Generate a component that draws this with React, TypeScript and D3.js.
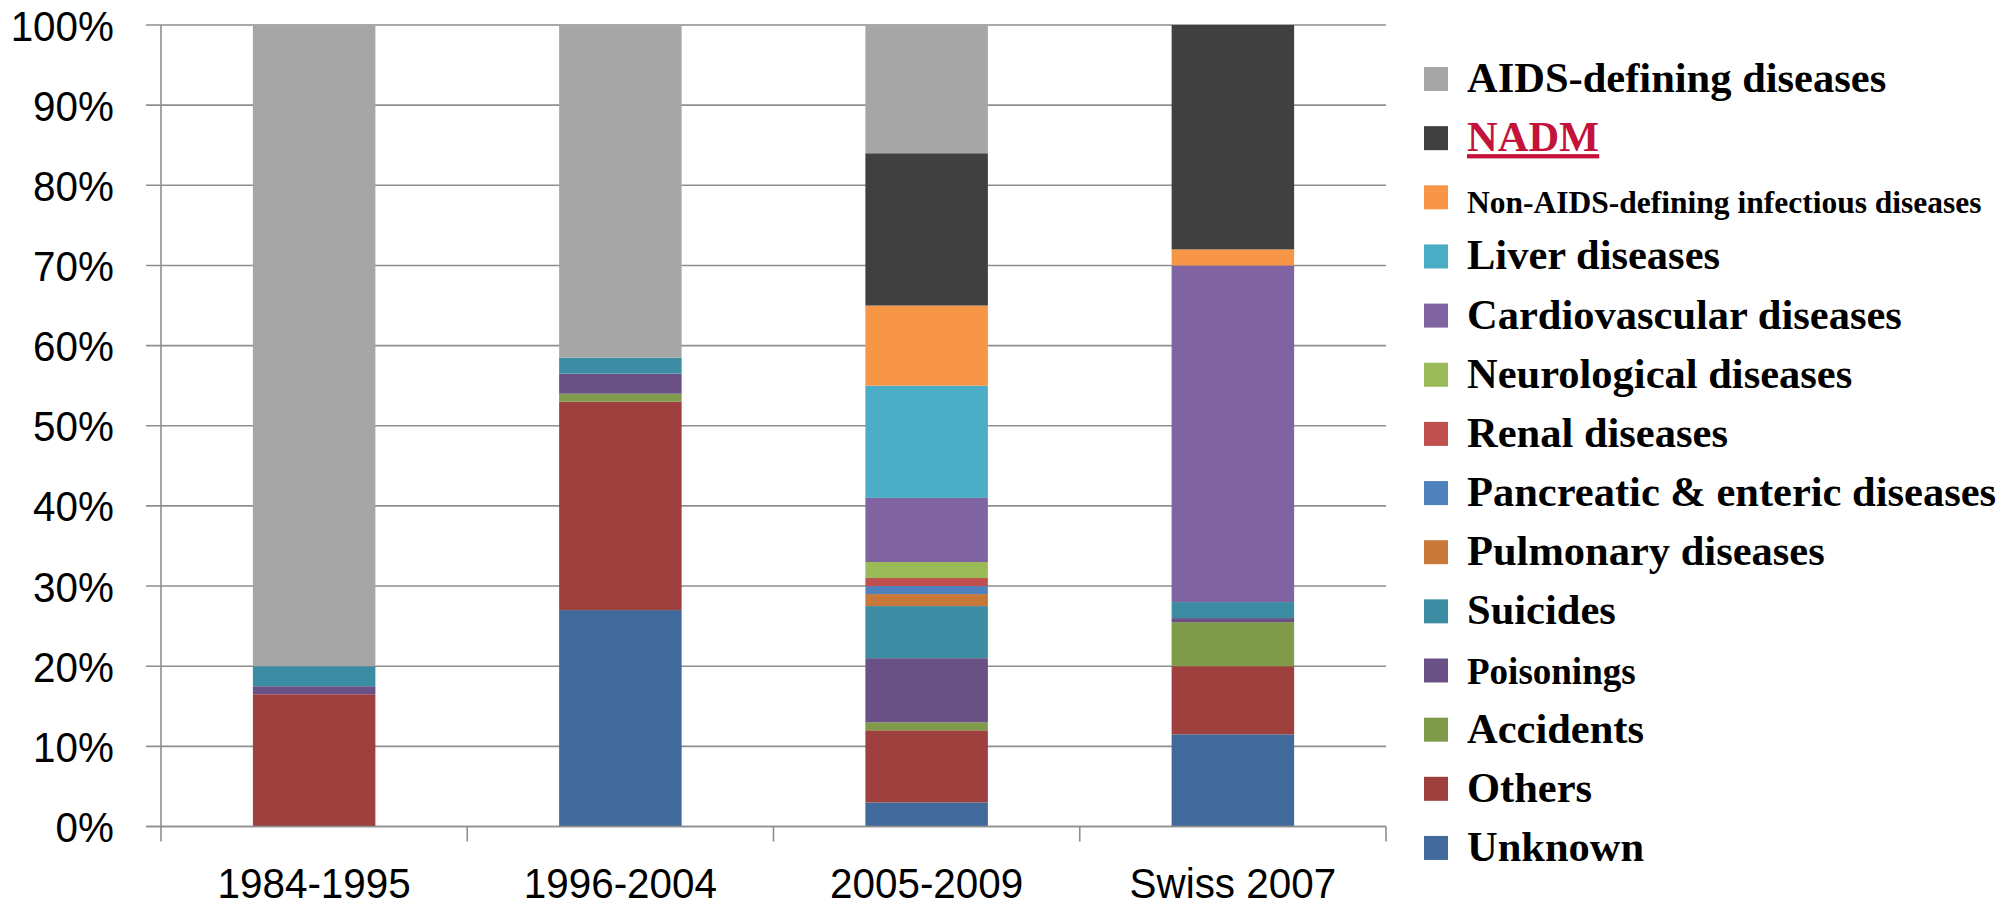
import React from "react";
import * as d3 from "d3";

const categories = ["1984-1995", "1996-2004", "2005-2009", "Swiss 2007"];

// series values, bottom of stack first (percent)
const unknown = [0, 27, 3, 11.5];
const others = [16.5, 26, 9, 8.5];
const accidents = [0, 1, 1, 5.5];
const poisonings = [1, 2.5, 8, 0.5];
const suicides = [2.5, 2, 6.5, 2];
const pulmonary = [0, 0, 1.5, 0];
const pancreatic = [0, 0, 1, 0];
const renal = [0, 0, 1, 0];
const neurological = [0, 0, 2, 0];
const cardiovascular = [0, 0, 8, 42];
const liver = [0, 0, 14, 0];
const nonAidsInfectious = [0, 0, 10, 2];
const nadm = [0, 0, 19, 28];
const aidsDefining = [80, 41.5, 16, 0];

const seriesNames = [
  "Unknown",
  "Others",
  "Accidents",
  "Poisonings",
  "Suicides",
  "Pulmonary diseases",
  "Pancreatic & enteric diseases",
  "Renal diseases",
  "Neurological diseases",
  "Cardiovascular diseases",
  "Liver diseases",
  "Non-AIDS-defining infectious diseases",
  "NADM",
  "AIDS-defining diseases",
];
const seriesValues = [
  unknown, others, accidents, poisonings, suicides, pulmonary, pancreatic,
  renal, neurological, cardiovascular, liver, nonAidsInfectious, nadm, aidsDefining,
];
const seriesColors = [
  "#416A9B", "#9D403E", "#7F9A48", "#695185", "#3C8DA3", "#C8793A", "#4F81BD",
  "#C0504D", "#9BBB59", "#8064A2", "#4BACC6", "#F79646", "#404040", "#A6A6A6",
];
const yTicks = [0, 10, 20, 30, 40, 50, 60, 70, 80, 90, 100];

export default function App() {
  const left = 161, right = 1386, bottom = 826.5, top = 25;
  const x = d3.scaleBand<string>().domain(categories).range([left, right]).paddingInner(0.6).paddingOuter(0.3);
  const y = d3.scaleLinear().domain([0, 100]).range([bottom, top]);

  const rows = categories.map((c, i) => {
    const r: any = { cat: c };
    seriesNames.forEach((s, k) => (r[s] = seriesValues[k][i]));
    return r;
  });
  const stacked = d3.stack<any>().keys(seriesNames)(rows);
  const step = x.step();
  const boundaries = d3.range(categories.length + 1).map((i) => left + i * step);

  const legendItems = seriesNames.map((n, k) => ({ name: n, color: seriesColors[k] })).reverse();
  const legendSize = (n: string) =>
    n === "Non-AIDS-defining infectious diseases" ? 31.5 : n === "Poisonings" ? 37 : 42.5;

  const labelFont = "'Liberation Sans', Arial, sans-serif";

  return (
    <div style={{ position: "absolute", left: 0, top: 0 }}>
      <svg width={2015} height={908} style={{ display: "block", background: "#fff" }}>
        {/* gridlines */}
        {yTicks.map((t) => (
          <line key={t} x1={left - 15} x2={right} y1={y(t)} y2={y(t)} stroke="#8E8E8E" strokeWidth={1.6} />
        ))}
        {/* bars */}
        {stacked.map((layer, k) => (
          <g key={layer.key} fill={seriesColors[k]}>
            {layer.map((d, i) =>
              d[1] - d[0] > 0 ? (
                <rect
                  key={i}
                  x={x(categories[i])}
                  width={x.bandwidth()}
                  y={y(d[1])}
                  height={y(d[0]) - y(d[1])}
                />
              ) : null
            )}
          </g>
        ))}
        {/* axes */}
        <line x1={left} x2={left} y1={y(0)} y2={y(100)} stroke="#8E8E8E" strokeWidth={1.6} />
        <line x1={left - 15} x2={right} y1={y(0)} y2={y(0)} stroke="#8E8E8E" strokeWidth={1.6} />
        {boundaries.map((b, i) => (
          <line key={i} x1={b} x2={b} y1={y(0)} y2={y(0) + 15} stroke="#8E8E8E" strokeWidth={1.6} />
        ))}
        {/* y labels */}
        {yTicks.map((t) => (
          <text
            key={t}
            transform={`translate(114,${y(t) + 15.5}) scale(0.94,1)`}
            textAnchor="end"
            fontFamily={labelFont}
            fontSize={43}
            fill="#000"
          >
            {t}%
          </text>
        ))}
        {/* category labels */}
        {categories.map((c) => (
          <text
            key={c}
            transform={`translate(${(x(c) as number) + x.bandwidth() / 2},898) scale(0.94,1)`}
            textAnchor="middle"
            fontFamily={labelFont}
            fontSize={43}
            fill="#000"
          >
            {c}
          </text>
        ))}
        {/* legend */}
        {legendItems.map((it, i) => {
          const sy = 67 + i * 59.15;
          const isNadm = it.name === "NADM";
          return (
            <g key={it.name}>
              <rect x={1424} y={sy} width={24} height={24} fill={it.color} />
              <text
                x={1467}
                y={sy + 24 + (it.name.startsWith("Non-") ? 4 : 1)}
                fontFamily="'Liberation Serif', 'Times New Roman', serif"
                fontWeight="bold"
                fontSize={legendSize(it.name)}
                fill={isNadm ? "#C3133A" : "#000"}
                style={isNadm ? { textDecoration: "underline" } : undefined}
              >
                {it.name}
              </text>
            </g>
          );
        })}
      </svg>
    </div>
  );
}
